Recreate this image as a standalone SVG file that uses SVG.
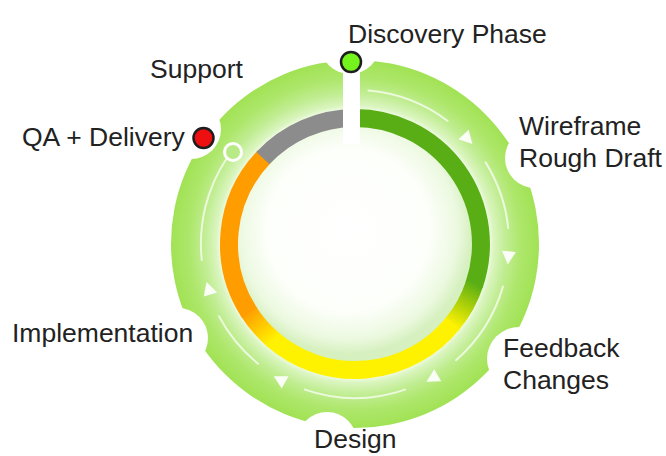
<svg xmlns="http://www.w3.org/2000/svg" width="666" height="456" viewBox="0 0 666 456">
  <style>
    .lbl { font-family: "Liberation Sans", Arial, sans-serif; font-size: 26.5px; fill: #222222; }
    .ring { fill: none; stroke-width: 18; }
    .guide { fill: none; stroke: #ffffff; stroke-width: 2; stroke-opacity: 0.7; stroke-linecap: round; }
    .arrow { fill: #ffffff; fill-opacity: 0.92; }
    .dot { stroke: #1e1e1e; stroke-width: 2.5; }
  </style>
  <defs>
    <radialGradient id="gearFill" gradientUnits="userSpaceOnUse" cx="355" cy="244" r="184">
      <stop offset="0.725" stop-color="#f4fcec"/>
      <stop offset="0.755" stop-color="#daf5bf"/>
      <stop offset="0.82" stop-color="#c1ed93"/>
      <stop offset="0.9" stop-color="#aee76c"/>
      <stop offset="1" stop-color="#a1e254"/>
    </radialGradient>
    <radialGradient id="innerFill" gradientUnits="userSpaceOnUse" cx="348" cy="230" r="124">
      <stop offset="0" stop-color="#ffffff"/>
      <stop offset="0.65" stop-color="#fdfffb"/>
      <stop offset="0.88" stop-color="#ecf9e0"/>
      <stop offset="1" stop-color="#d6f0bf"/>
    </radialGradient>
    <linearGradient id="gy" gradientUnits="userSpaceOnUse" x1="474.8" y1="282.9" x2="451.5" y2="325">
      <stop offset="0" stop-color="#58ae14"/>
      <stop offset="1" stop-color="#fff200"/>
    </linearGradient>
    <linearGradient id="yo" gradientUnits="userSpaceOnUse" x1="274" y1="340.5" x2="248.1" y2="310.8">
      <stop offset="0" stop-color="#fff200"/>
      <stop offset="1" stop-color="#ff9c00"/>
    </linearGradient>
    <mask id="notches">
      <rect x="0" y="0" width="666" height="456" fill="#ffffff"/>
      <g fill="#000000">
        <circle cx="350" cy="44" r="30"/>
        <circle cx="191" cy="129" r="30"/>
        <circle cx="535" cy="158" r="30"/>
        <circle cx="519" cy="359" r="32"/>
        <circle cx="327" cy="442" r="30"/>
        <circle cx="178" cy="338" r="30"/>
      </g>
    </mask>
    <polygon id="tri" points="-7,-6 7,-6 0,7"/>
  </defs>

  <g id="wheel">
    <circle cx="355" cy="244" r="184" fill="url(#gearFill)" mask="url(#notches)"/>
    <circle cx="355" cy="244" r="118" fill="url(#innerFill)"/>
    <path class="ring" stroke="#58ae14" d="M354,118 A126,126 0 0 1 474.1,285"/>
    <path class="ring" stroke="url(#gy)" d="M474.8,282.9 A126,126 0 0 1 451.5,325"/>
    <path class="ring" stroke="#fff200" d="M452.9,323.3 A126,126 0 0 1 272.3,339.1"/>
    <path class="ring" stroke="url(#yo)" d="M274,340.5 A126,126 0 0 1 248.1,310.8"/>
    <path class="ring" stroke="#ff9c00" d="M249.3,312.6 A126,126 0 0 1 264.4,156.5"/>
    <path class="ring" stroke="#8c8c8c" d="M262.9,158.1 A126,126 0 0 1 355,118"/>
    <rect x="343" y="68" width="17" height="76" fill="#ffffff"/>
  </g>

  <g id="connectors">
    <path class="guide" d="M368.4,90.6 A154,154 0 0 1 447.7,121"/>
    <path class="guide" d="M485.6,162.4 A154,154 0 0 1 508.2,227.9"/>
    <path class="guide" d="M503,286.4 A154,154 0 0 1 456,360.2"/>
    <path class="guide" d="M405.1,389.6 A154,154 0 0 1 304.9,389.6"/>
    <path class="guide" d="M258.1,363.7 A154,154 0 0 1 219,316.3"/>
    <path class="guide" d="M201.8,260.1 A154,154 0 0 1 227,158"/>
    <use href="#tri" class="arrow" transform="translate(355,244) rotate(-43) translate(154,0)"/>
    <use href="#tri" class="arrow" transform="translate(355,244) rotate(5) translate(154,0)"/>
    <use href="#tri" class="arrow" transform="translate(355,244) rotate(60) translate(155,0)"/>
    <use href="#tri" class="arrow" transform="translate(355,244) rotate(119) translate(155,0)"/>
    <use href="#tri" class="arrow" transform="translate(355,244) rotate(163) translate(153,0)"/>
    <circle cx="233" cy="152" r="8.5" fill="#b8eb85" stroke="#ffffff" stroke-width="3"/>
  </g>

  <g id="discovery">
    <circle class="dot" cx="351" cy="62" r="10" fill="#74f41c"/>
    <text class="lbl" x="348" y="43">Discovery Phase</text>
  </g>
  <g id="wireframe">
    <text class="lbl" x="519" y="135">Wireframe</text>
    <text class="lbl" x="519" y="167">Rough Draft</text>
  </g>
  <g id="feedback">
    <text class="lbl" x="503" y="357">Feedback</text>
    <text class="lbl" x="503" y="389">Changes</text>
  </g>
  <g id="design">
    <text class="lbl" x="314" y="448">Design</text>
  </g>
  <g id="implementation">
    <text class="lbl" x="12" y="342">Implementation</text>
  </g>
  <g id="qa-delivery">
    <circle class="dot" cx="203.5" cy="138" r="10" fill="#ee1010"/>
    <text class="lbl" x="22" y="146">QA + Delivery</text>
  </g>
  <g id="support">
    <text class="lbl" x="150" y="78">Support</text>
  </g>
</svg>
